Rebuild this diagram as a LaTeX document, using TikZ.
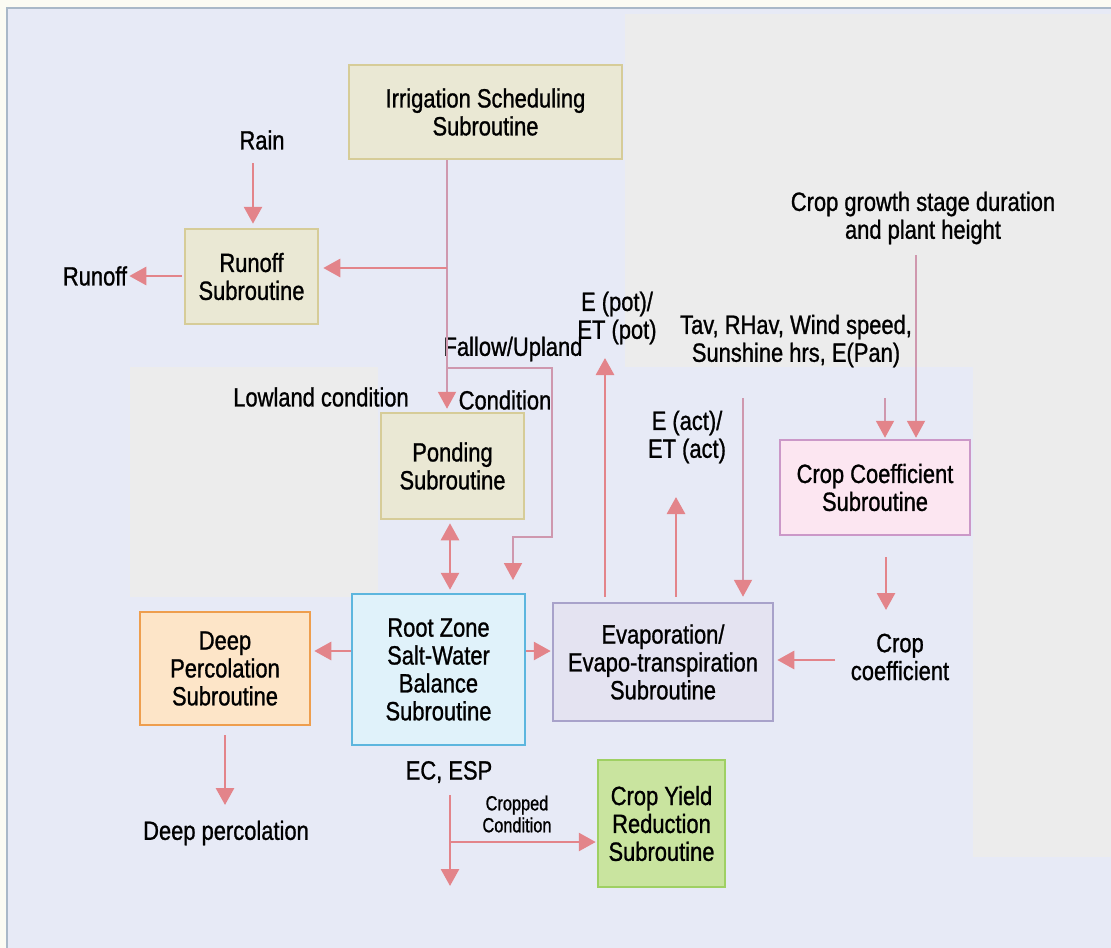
\documentclass[tikz,border=0pt]{standalone}
\usepackage{fontspec}
\setmainfont{Liberation Sans}[FakeStretch=0.83,FakeBold=1]
\newfontfamily\condf{Liberation Sans}[FakeStretch=0.8,FakeBold=1]
\usetikzlibrary{arrows.meta}
\definecolor{lav}{HTML}{E7EAF6}
\definecolor{gry}{HTML}{ECECEC}
\definecolor{topc}{HTML}{FBFBF3}
\definecolor{framec}{HTML}{A9B8C8}
\definecolor{arrc}{HTML}{E3848A}
\definecolor{thinc}{HTML}{CF98AE}
\definecolor{begef}{HTML}{EAE8D4}
\definecolor{beged}{HTML}{D6CC98}
\definecolor{rootf}{HTML}{E0F2FA}
\definecolor{rootd}{HTML}{5DB6DE}
\definecolor{deepf}{HTML}{FDE5C8}
\definecolor{deepd}{HTML}{EE9E4E}
\definecolor{evapf}{HTML}{E4E3F1}
\definecolor{evapd}{HTML}{A8A2CA}
\definecolor{ccf}{HTML}{FCE6F1}
\definecolor{ccd}{HTML}{CB98C8}
\definecolor{cyf}{HTML}{C9E49F}
\definecolor{cyd}{HTML}{9FD063}
\newcommand\bigfnt{\fontsize{26.5}{28}\selectfont}
\newcommand\smfnt{\condf\fontsize{20.5}{22}\selectfont}
\tikzset{
  box/.style={line width=2.5bp, inner sep=0pt, align=center, font=\bigfnt},
  lbl/.style={inner sep=0pt, align=center, font=\bigfnt},
  smlbl/.style={inner sep=0pt, align=center, font=\smfnt},
  tip/.tip={Triangle[length=17bp,width=18bp,color=arrc]},
  arr/.style={draw=arrc, line width=2.8bp, -tip},
  thinarr/.style={draw=thinc, line width=1.9bp, -tip},
  thinl/.style={draw=thinc, line width=1.9bp},
}
\begin{document}
\begin{tikzpicture}[x=1bp,y=-1bp]
\useasboundingbox (0,0) rectangle (1111,948);
% background
\fill[topc] (0,0) rectangle (1111,948);
\fill[lav] (8,9) rectangle (1111,948);
\fill[gry] (625,14) rectangle (1111,367);
\fill[gry] (973,367) rectangle (1111,857);
\fill[gry] (130,367) rectangle (378,597);
\draw[framec, line width=2bp] (7,948) -- (7,8) -- (1111,8);

% boxes
\node[box, fill=begef, draw=beged, minimum width=273bp, minimum height=94bp] (irr) at (485.5,112) {Irrigation Scheduling\\Subroutine};
\node[box, fill=begef, draw=beged, minimum width=133bp, minimum height=95bp] (runoff) at (251.5,276.5) {Runoff\\Subroutine};
\node[box, fill=begef, draw=beged, minimum width=143bp, minimum height=106bp] (pond) at (452.5,466) {Ponding\\Subroutine};
\node[box, fill=rootf, draw=rootd, minimum width=173bp, minimum height=151bp] (root) at (438.5,669.5) {Root Zone\\Salt-Water\\Balance\\Subroutine};
\node[box, fill=deepf, draw=deepd, minimum width=170bp, minimum height=113bp] (deep) at (225,668.5) {Deep\\Percolation\\Subroutine};
\node[box, fill=evapf, draw=evapd, minimum width=220bp, minimum height=118bp] (evap) at (663,662) {Evaporation/\\Evapo-transpiration\\Subroutine};
\node[box, fill=ccf, draw=ccd, minimum width=190bp, minimum height=95bp] (cc) at (875,487.5) {Crop Coefficient\\Subroutine};
\node[box, fill=cyf, draw=cyd, minimum width=127bp, minimum height=127bp] (cy) at (661.5,823.5) {Crop Yield\\Reduction\\Subroutine};

% labels
\node[lbl] (rain) at (262,140) {Rain};
\node[lbl] (runofft) at (95,276) {Runoff};
\node[lbl] (growth) at (923,218) {Crop growth stage duration\\and plant height};
\node[lbl] (epot) at (617,318) {E (pot)/\\ET (pot)};
\node[lbl] (tav) at (796,341) {Tav, RHav, Wind speed,\\Sunshine hrs, E(Pan)};
\node[lbl] (fallow) at (513,349) {Fallow/Upland};
\node[lbl] (lowland) at (321,397) {Lowland condition};
\node[lbl] (cond) at (505,400) {Condition};
\node[lbl] (eact) at (687,437) {E (act)/\\ET (act)};
\node[lbl] (ccl) at (900,657) {Crop\\coefficient};
\node[lbl] (ecesp) at (449,772) {EC, ESP};
\node[smlbl] (cropped) at (517,814) {Cropped\\Condition};
\node[lbl] (deepl) at (226,833) {Deep percolation};

% coordinates
\coordinate (rainA) at (253,163);
\coordinate (v) at (447,268);
\coordinate (f1) at (447,368);
\coordinate (f2) at (552,368);
\coordinate (f3) at (552,537);
\coordinate (f4) at (513,537);
\coordinate (f5) at (513,580);
\coordinate (dbl) at (450,0);
\coordinate (rd) at (0,651);
\coordinate (epA) at (605,358);
\coordinate (eaA) at (676,497);
\coordinate (tv1) at (743,398);
\coordinate (tv2) at (885,398);
\coordinate (gr1) at (916,255);
\coordinate (cc1) at (886,557);
\coordinate (cc2) at (886,610);
\coordinate (cl1) at (835,660);
\coordinate (dp1) at (225,735);
\coordinate (dp2) at (225,805);
\coordinate (ec1) at (450,795);
\coordinate (ec2) at (450,842);
\coordinate (ec3) at (450,886);

% connectors
\draw[arr, shorten >=4bp] (rainA) -- (runoff.north -| rainA);
\draw[arr, shorten <=2bp, shorten >=2bp] (runoff.west |- runofft) -- (runofft.east);
\draw[thinl] (irr.south -| v) -- (f1);
\draw[thinarr, shorten >=3bp] (f1) -- (pond.north -| f1);
\draw[arr, shorten >=4bp] (v) -- (runoff.east |- v);
\draw[thinarr] (f1) -- (f2) -- (f3) -- (f4) -- (f5);
\draw[arr, tip-tip, shorten <=3bp, shorten >=3bp] (pond.south -| dbl) -- (root.north -| dbl);
\draw[arr, shorten >=3bp] (root.west |- rd) -- (deep.east |- rd);
\draw[arr, shorten >=1bp] (root.east |- rd) -- (evap.west |- rd);
\draw[arr, shorten <=5bp] (evap.north -| epA) -- (epA);
\draw[arr, shorten <=5bp] (evap.north -| eaA) -- (eaA);
\draw[thinarr, shorten >=5bp] (tv1) -- (evap.north -| tv1);
\draw[thinarr, shorten >=1bp] (tv2) -- (cc.north -| tv2);
\draw[thinarr, shorten >=1bp] (gr1) -- (cc.north -| gr1);
\draw[arr] (cc1) -- (cc2);
\draw[arr, shorten >=3bp] (cl1) -- (evap.east |- cl1);
\draw[arr] (dp1) -- (dp2);
\draw[arr] (ec1) -- (ec3);
\draw[arr, shorten >=1bp] (ec2) -- (cy.west |- ec2);
\end{tikzpicture}
\end{document}
